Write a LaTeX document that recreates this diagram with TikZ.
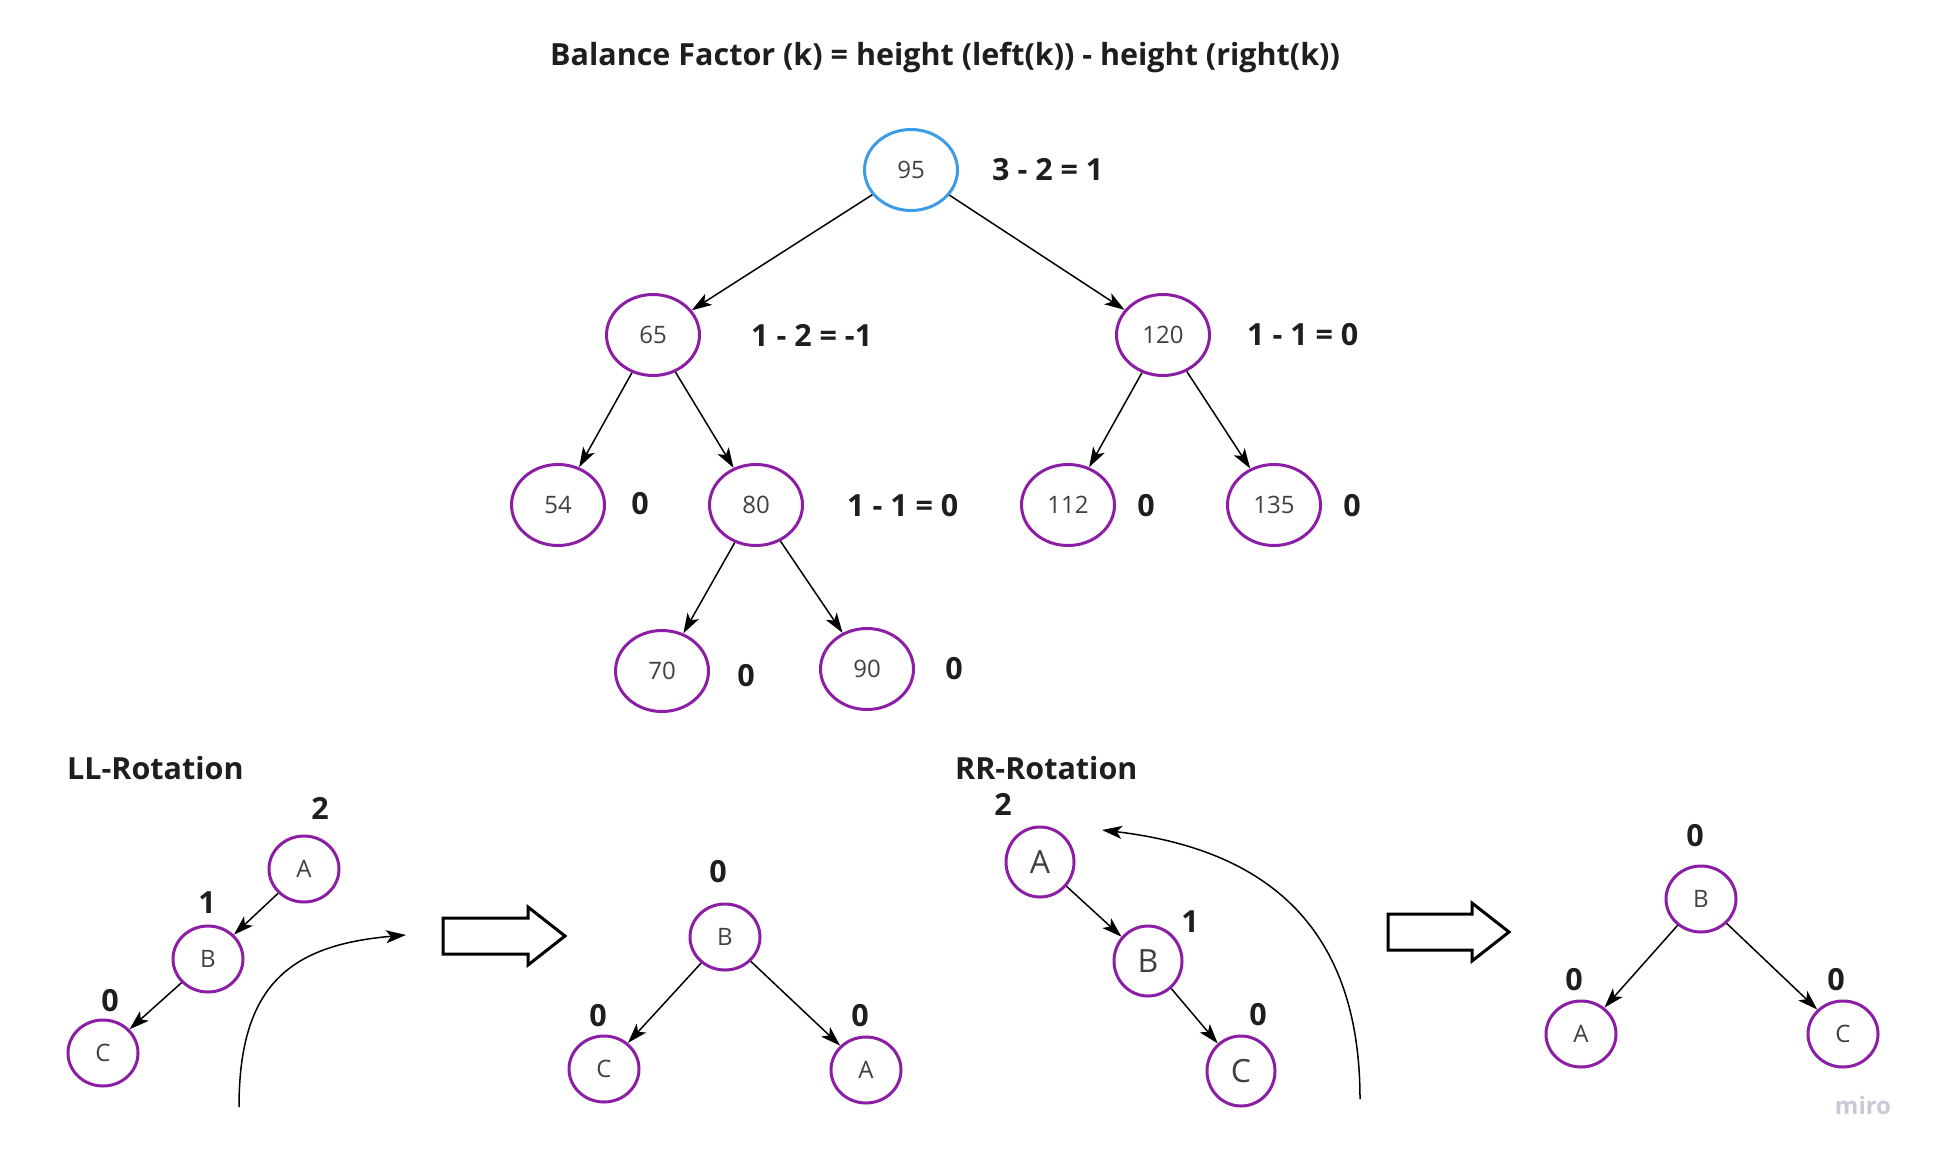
\documentclass[tikz,border=0pt]{standalone}
\usepackage{fontspec}
\setmainfont{Open Sans}
\usetikzlibrary{shapes.geometric,arrows.meta}
\definecolor{nodepurple}{RGB}{140,30,165}
\definecolor{rootblue}{RGB}{60,155,230}
\definecolor{inkdark}{RGB}{30,30,30}
\definecolor{mirogrey}{RGB}{200,202,214}

\begin{document}
\begin{tikzpicture}[x=1pt,y=-1pt,
treenode/.style={ellipse, draw=nodepurple, line width=3pt, minimum width=93pt, minimum height=81pt, inner sep=0pt, text=inkdark!85, font=\fontsize{24}{27}\selectfont},
rootnode/.style={treenode, draw=rootblue},
smallnode/.style={treenode, minimum width=70pt, minimum height=66pt, font=\fontsize{24}{27}\selectfont},
bignode/.style={smallnode, minimum width=68pt, minimum height=70pt, font=\fontsize{32}{35}\selectfont},
factor/.style={font=\bfseries\fontsize{30.5}{33}\selectfont, text=inkdark, inner sep=0pt},
edge/.style={-{Stealth[length=20pt,width=13pt,inset=5pt]}, line width=1.5pt},
blockarrow/.style={draw=black, line width=3pt, line join=miter},
]
\useasboundingbox (0,0) rectangle (1940,1159);

%Title
\node[factor] (title) at (945,57) {Balance Factor (k) = height (left(k)) - height (right(k))};

%Nodes
\node[rootnode] (n95)  at (911,170) {95};
\node[treenode] (n65)  at (653,335) {65};
\node[treenode] (n120) at (1163,335) {120};
\node[treenode] (n54)  at (558,505) {54};
\node[treenode] (n80)  at (756,505) {80};
\node[treenode] (n112) at (1068,505) {112};
\node[treenode] (n135) at (1274,505) {135};
\node[treenode] (n70)  at (662,671) {70};
\node[treenode] (n90)  at (867,669) {90};

%Factors
\node[factor, anchor=west] (f95)  at (992,170) {3 - 2 = 1};
\node[factor, anchor=west] (f65)  at (751,335) {1 - 2 = -1};
\node[factor, anchor=west] (f120) at (1247,335) {1 - 1 = 0};
\node[factor] (f54)  at (640,504) {0};
\node[factor, anchor=west] (f80)  at (847,506) {1 - 1 = 0};
\node[factor] (f112) at (1146,506) {0};
\node[factor] (f135) at (1352,506) {0};
\node[factor] (f70)  at (746,676) {0};
\node[factor] (f90)  at (954,669) {0};

%Lines
\draw[edge] (n95) -- (n65);
\draw[edge] (n95) -- (n120);
\draw[edge] (n65) -- (n54);
\draw[edge] (n65) -- (n80);
\draw[edge] (n120) -- (n112);
\draw[edge] (n120) -- (n135);
\draw[edge] (n80) -- (n70);
\draw[edge] (n80) -- (n90);

%LL rotation
\node[factor, anchor=west] (lltitle) at (67,768) {LL-Rotation};
\node[smallnode] (lla) at (304,869) {A};
\node[smallnode] (llb) at (208,959) {B};
\node[smallnode] (llc) at (103,1053) {C};
\node[factor] (llfa) at (320,808) {2};
\node[factor] (llfb) at (207,903) {1};
\node[factor] (llfc) at (110,1001) {0};
\draw[edge] (lla) -- (llb);
\draw[edge] (llb) -- (llc);
\coordinate (llfrom) at (239,1107);
\coordinate (llto) at (406,935);
\draw[edge] (llfrom) .. controls (239,985) and (290,945) .. (llto);
\draw[blockarrow] (443,918) -- (528,918) -- (528,907) -- (565,936) -- (528,965) -- (528,954) -- (443,954) -- cycle;

\node[smallnode] (lrb) at (725,937) {B};
\node[smallnode] (lrc) at (604,1069) {C};
\node[smallnode] (lra) at (866,1070) {A};
\node[factor] (lrfb) at (718,872) {0};
\node[factor] (lrfc) at (598,1016) {0};
\node[factor] (lrfa) at (860,1016) {0};
\draw[edge] (lrb) -- (lrc);
\draw[edge] (lrb) -- (lra);

%RR rotation
\node[factor, anchor=west] (rrtitle) at (955,768) {RR-Rotation};
\node[bignode] (rra) at (1040,862) {A};
\node[bignode] (rrb) at (1148,961) {B};
\node[bignode] (rrc) at (1241,1071) {C};
\node[factor] (rrfa) at (1003,804) {2};
\node[factor] (rrfb) at (1190,922) {1};
\node[factor] (rrfc) at (1258,1015) {0};
\draw[edge] (rra) -- (rrb);
\draw[edge] (rrb) -- (rrc);
\coordinate (rrfrom) at (1360,1099);
\coordinate (rrto) at (1102,830);
\draw[edge] (rrfrom) .. controls (1360,930) and (1270,850) .. (rrto);
\draw[blockarrow] (1388,914) -- (1472,914) -- (1472,903) -- (1509,932) -- (1472,961) -- (1472,950) -- (1388,950) -- cycle;

\node[smallnode] (rrb2) at (1701,899) {B};
\node[smallnode] (rra2) at (1581,1034) {A};
\node[smallnode] (rrc2) at (1843,1034) {C};
\node[factor] (rrfb2) at (1695,836) {0};
\node[factor] (rrfa2) at (1574,980) {0};
\node[factor] (rrfc2) at (1836,980) {0};
\draw[edge] (rrb2) -- (rra2);
\draw[edge] (rrb2) -- (rrc2);

\node[font=\bfseries\fontsize{24}{26}\selectfont, text=mirogrey] (miro) at (1863,1105) {miro};

\end{tikzpicture}
\end{document}
